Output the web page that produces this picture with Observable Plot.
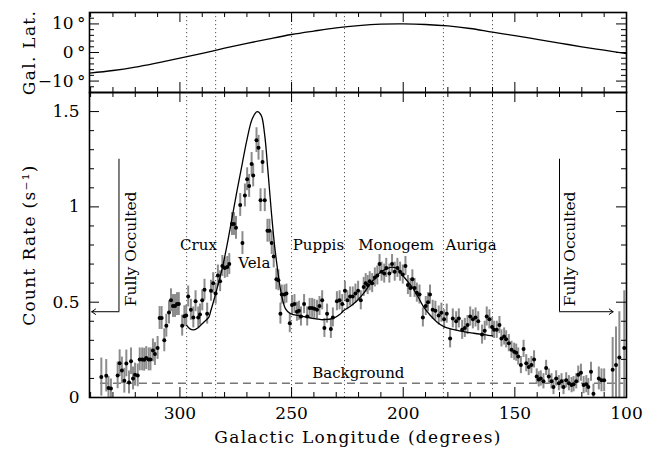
<!DOCTYPE html>
<html><head><meta charset="utf-8">
<script src="https://cdn.jsdelivr.net/npm/d3@7"></script>
<script src="https://cdn.jsdelivr.net/npm/@observablehq/plot@0.6"></script>
<style>
html,body{margin:0;padding:0;background:#fff;}
#chart{position:relative;width:661px;height:449px;}
#chart svg{position:absolute;left:0;top:0;}
</style></head><body><div id="chart"></div>
<script>
// ---------- data ----------
// count-rate points: [galactic longitude (deg), rate (s^-1), 1-sigma error]
const counts = [
[335.2,0.107,0.10],[333.0,0.114,0.085],[332.0,0.05,0.06],[330.9,0.047,0.05],[327.9,0.116,0.07],[327.0,0.18,0.07],
[326.0,0.142,0.07],[324.9,0.088,0.065],[324.0,0.179,0.07],[322.8,0.079,0.06],[321.9,0.19,0.07],[321.0,0.10,0.06],
[320.1,0.12,0.06],[318.9,0.116,0.06],[318.0,0.20,0.06],[316.9,0.20,0.06],[316.0,0.198,0.06],[315.1,0.207,0.06],
[314.0,0.20,0.06],[313.2,0.20,0.06],[312.1,0.247,0.06],[311.2,0.228,0.06],[310.0,0.26,0.06],[309.1,0.417,0.06],
[308.2,0.417,0.06],[307.0,0.30,0.06],[306.1,0.377,0.06],[304.9,0.446,0.06],[304.0,0.51,0.06],[303.1,0.48,0.06],
[302.2,0.48,0.06],[301.3,0.49,0.06],[300.5,0.49,0.06],[299.0,0.377,0.055],[298.0,0.426,0.055],[297.2,0.43,0.055],
[296.3,0.53,0.055],[295.1,0.46,0.055],[294.0,0.42,0.055],[293.0,0.505,0.055],[291.8,0.42,0.055],[291.0,0.435,0.055],
[290.0,0.51,0.055],[289.0,0.565,0.055],[287.8,0.44,0.055],[286.1,0.56,0.055],[285.1,0.60,0.055],[284.0,0.545,0.055],
[283.0,0.64,0.055],[282.0,0.61,0.055],[281.0,0.69,0.055],[279.9,0.68,0.055],[278.8,0.685,0.055],[277.9,0.70,0.055],
[276.7,0.91,0.06],[275.8,0.91,0.06],[274.9,0.89,0.06],[273.0,1.01,0.06],[272.0,0.81,0.06],[270.9,1.06,0.06],
[269.9,1.145,0.06],[269.0,1.11,0.06],[267.9,1.225,0.06],[267.2,1.165,0.06],[265.7,1.35,0.065],[264.8,1.31,0.065],
[263.9,1.035,0.06],[263.0,1.235,0.06],[262.0,1.035,0.06],[260.8,0.875,0.06],[259.9,0.875,0.06],[258.9,0.81,0.06],
[258.0,0.74,0.06],[256.8,0.62,0.055],[255.9,0.615,0.055],[255.0,0.44,0.055],[254.4,0.54,0.05],[253.2,0.54,0.05],
[252.3,0.545,0.05],[250.8,0.39,0.05],[249.8,0.485,0.05],[248.7,0.49,0.05],[247.6,0.45,0.05],[246.7,0.455,0.05],
[245.8,0.425,0.05],[244.4,0.49,0.05],[243.0,0.425,0.05],[241.9,0.47,0.05],[240.8,0.47,0.05],[239.8,0.465,0.05],
[238.6,0.46,0.05],[237.5,0.48,0.05],[236.3,0.51,0.05],[235.3,0.365,0.05],[234.1,0.44,0.05],[232.4,0.36,0.05],
[231.5,0.42,0.05],[229.7,0.505,0.05],[228.5,0.51,0.05],[227.3,0.49,0.05],[226.1,0.56,0.05],[225.0,0.51,0.05],
[223.8,0.53,0.05],[222.6,0.53,0.05],[221.4,0.545,0.05],[220.2,0.56,0.05],[219.0,0.51,0.05],[217.7,0.58,0.05],
[216.8,0.60,0.05],[215.9,0.59,0.05],[215.0,0.61,0.05],[213.9,0.60,0.05],[212.7,0.63,0.05],[211.6,0.64,0.05],
[210.6,0.70,0.05],[209.7,0.66,0.05],[208.5,0.65,0.05],[207.6,0.68,0.05],[206.2,0.65,0.05],[205.0,0.70,0.05],
[203.8,0.66,0.05],[202.6,0.68,0.05],[201.4,0.66,0.05],[200.2,0.645,0.05],[199.0,0.69,0.05],[197.9,0.59,0.05],
[196.8,0.575,0.05],[195.9,0.62,0.05],[194.9,0.575,0.05],[193.9,0.55,0.05],[192.7,0.54,0.05],[191.2,0.42,0.05],
[189.9,0.48,0.05],[188.9,0.50,0.05],[188.0,0.54,0.05],[186.8,0.46,0.05],[185.6,0.455,0.05],[184.1,0.43,0.05],
[182.9,0.445,0.05],[181.7,0.41,0.05],[180.5,0.44,0.05],[179.0,0.31,0.05],[177.8,0.415,0.05],[176.3,0.40,0.05],
[175.1,0.415,0.05],[173.6,0.355,0.05],[172.4,0.365,0.05],[171.2,0.38,0.05],[170.0,0.425,0.05],[168.8,0.41,0.05],
[167.6,0.42,0.05],[166.4,0.40,0.05],[164.7,0.33,0.05],[163.5,0.35,0.05],[162.6,0.425,0.05],[161.4,0.41,0.05],
[160.2,0.37,0.05],[159.3,0.355,0.045],[158.1,0.355,0.045],[156.9,0.38,0.045],[156.0,0.31,0.045],[154.8,0.32,0.045],
[153.9,0.305,0.045],[152.7,0.285,0.045],[151.5,0.25,0.045],[150.3,0.24,0.045],[149.4,0.235,0.045],[148.5,0.215,0.045],
[147.3,0.17,0.045],[146.1,0.255,0.045],[144.9,0.18,0.045],[143.8,0.16,0.045],[142.6,0.17,0.045],[141.4,0.20,0.045],
[140.2,0.11,0.04],[139.3,0.095,0.04],[138.4,0.10,0.04],[137.2,0.085,0.04],[136.0,0.155,0.04],[134.8,0.11,0.04],
[133.6,0.085,0.04],[132.7,0.055,0.04],[131.5,0.10,0.04],[130.3,0.075,0.04],[129.1,0.085,0.04],[128.2,0.055,0.04],
[127.0,0.09,0.04],[125.8,0.075,0.04],[124.6,0.065,0.04],[123.7,0.07,0.04],[122.5,0.085,0.04],[121.6,0.12,0.045],
[120.4,0.13,0.045],[119.2,0.065,0.045],[118.0,0.07,0.045],[117.1,0.055,0.045],[115.9,0.135,0.05],[114.8,0.02,0.05],
[112.4,0.10,0.06],[111.2,0.09,0.06],[110.0,0.09,0.06],[106.2,0.145,0.17],[104.7,0.17,0.2],[103.2,0.21,0.24],[101.0,0.26,0.3]
];
// model curve: [longitude, rate]
const model = [
[297,0.378],[295.5,0.36],[293.8,0.355],[292,0.365],[290.8,0.378],[289.3,0.395],[287.1,0.42],[286.3,0.45],
[284.8,0.51],[283.3,0.575],[281.1,0.675],[278.8,0.806],[276.6,0.946],[274.4,1.086],[272.1,1.226],[269.9,1.357],
[267.6,1.462],[265.4,1.50],[263.6,1.48],[262.1,1.383],[260.6,1.19],[259.1,0.98],[257.7,0.806],[256.2,0.666],
[254.6,0.544],[252.7,0.465],[250.5,0.44],[246,0.428],[243,0.421],[239,0.413],[235.6,0.408],[231.1,0.416],
[228.5,0.435],[226.6,0.456],[223.5,0.48],[220.6,0.509],[217.5,0.55],[214.7,0.597],[212.3,0.63],[210.2,0.657],
[207.5,0.675],[205,0.684],[202.5,0.675],[200.5,0.645],[199,0.623],[196,0.579],[193.7,0.535],[190.8,0.474],
[187.8,0.43],[184.8,0.395],[181.8,0.372],[178.8,0.36],[174.3,0.348],[168.4,0.337],[163,0.328],[160,0.323]
];
// scan path galactic latitude: [longitude, latitude]
const latitude = [
[340.5,-7.2],[330,-6.3],[320,-5.1],[310,-3.6],[300,-2.0],[290,-0.3],[280,1.5],[270,3.2],[260,4.8],[250,6.3],
[240,7.5],[230,8.6],[220,9.4],[210,9.9],[200,10.0],[190,9.8],[180,9.3],[170,8.4],[160,7.1],[150,5.9],
[140,4.6],[130,3.3],[120,2.0],[110,0.8],[100,-0.4]
];
const boundaries = [297, 284, 250, 226.3, 182, 160];
const regionNames = ["Crux", "Vela", "Puppis", "Monogem", "Auriga"];
const regionLon = [291.7, 266.7, 238.0, 203.2, 169.6];
const regionRate = [0.797, 0.703, 0.797, 0.797, 0.797];
const backgroundLevel = 0.075;
const backgroundSpan = [335.6, 101.3];
const backgroundLabel = {name: "Background", lon: 220.1, rate: 0.126};
const occultCorner = [327.3, 130];
const occultTip = [339.5, 106];
const occultTop = 1.25, occultBottom = 0.45;
const occultTextLon = [321.7, 125.1], occultTextRate = 0.78;
const xMajor = [300, 250, 200, 150, 100];
const xMinor = [340,330,320,310,290,280,270,260,240,230,220,210,190,180,170,160,140,130,120,110];
const rateMajor = [0, 0.5, 1, 1.5];
const rateMinor = [0.1,0.2,0.3,0.4,0.6,0.7,0.8,0.9,1.1,1.2,1.3,1.4];
const latMajor = [-10, 0, 10];
const latMinor = [-12,-8,-6,-4,-2,2,4,6,8,12];

(function () {
// ---------- layout ----------
const W = 661, H = 449, ML = 89, MR = 35;
const FW = W - ML - MR;
const font = "DejaVu Serif";
const xDomain = [340.5, 100];

function frameTicks(xMaj, xMin, yMaj, yMin, FH) {
  const t = [];
  for (const [arr, len] of [[xMaj, 10], [xMin, 5]]) {
    t.push(Plot.tickX(arr, {x: d => d, insetTop: FH - len, stroke: "black"}));
    t.push(Plot.tickX(arr, {x: d => d, insetBottom: FH - len, stroke: "black"}));
  }
  for (const [arr, len] of [[yMaj, 10], [yMin, 5]]) {
    t.push(Plot.tickY(arr, {y: d => d, insetRight: FW - len, stroke: "black"}));
    t.push(Plot.tickY(arr, {y: d => d, insetLeft: FW - len, stroke: "black"}));
  }
  return t;
}

// ---------- bottom panel ----------
const FHb = 305;
const bottomPanel = Plot.plot({
  width: W, height: H, marginLeft: ML, marginRight: MR, marginTop: 92, marginBottom: 52,
  style: {background: "transparent", fontFamily: font, overflow: "visible"},
  x: {domain: xDomain},
  y: {domain: [0, 1.6]},
  marks: [
    Plot.ruleX(boundaries, {x: d => d, stroke: "#555", strokeDasharray: "1.2,2.8"}),
    Plot.ruleY([backgroundLevel], {y: d => d, x1: backgroundSpan[0], x2: backgroundSpan[1], stroke: "#777", strokeWidth: 1.5, strokeDasharray: "8,5"}),
    Plot.ruleX(counts, {x: d => d[0], y1: d => d[1] - d[2], y2: d => d[1] + d[2], stroke: "#8c8c8c", strokeWidth: 2, clip: true}),
    Plot.dot(counts, {x: d => d[0], y: d => d[1], r: 2, fill: "black"}),
    Plot.line(model, {x: d => d[0], y: d => d[1], curve: "catmull-rom", stroke: "black", strokeWidth: 1.3}),
    Plot.text(regionNames, {x: (d, i) => regionLon[i], y: (d, i) => regionRate[i], text: d => d, fontSize: 15, fill: "black"}),
    Plot.text([backgroundLabel], {x: "lon", y: "rate", text: "name", fontSize: 15, fill: "black"}),
    Plot.ruleX(occultCorner, {x: d => d, y1: occultBottom, y2: occultTop, stroke: "black"}),
    Plot.arrow(occultCorner, {x1: d => d, x2: (d, i) => occultTip[i], y1: occultBottom, y2: occultBottom, stroke: "black", strokeWidth: 1, headLength: 7, headAngle: 70}),
    Plot.text(occultTextLon, {x: d => d, y: occultTextRate, text: () => "Fully Occulted", rotate: -90, fontSize: 15.5, fill: "black"}),
    ...frameTicks(xMajor, xMinor, rateMajor, rateMinor, FHb),
    Plot.frame({stroke: "black", strokeWidth: 1.6}),
    Plot.axisX(xMajor, {tickSize: 0, tickPadding: 9, fontSize: 17, tickFormat: d => String(d), label: null}),
    Plot.axisY(rateMajor, {tickSize: 0, tickPadding: 10, fontSize: 17, tickFormat: d => String(d), label: null}),
    Plot.text(["Count Rate (s\u207B\u00B9)"], {frameAnchor: "left", dx: -60, rotate: -90, text: d => d, textAnchor: "middle", lineAnchor: "middle", fontSize: 17, fill: "black"}),
    Plot.text(["Galactic Longitude (degrees)"], {frameAnchor: "bottom", dy: 40, text: d => d, textAnchor: "middle", lineAnchor: "middle", fontSize: 17, fill: "black"})
  ]
});

// ---------- top panel ----------
const FHt = 80;
const topPanel = Plot.plot({
  width: W, height: H, marginLeft: ML, marginRight: MR, marginTop: 12, marginBottom: H - 92,
  style: {background: "transparent", fontFamily: font, overflow: "visible"},
  x: {domain: xDomain, axis: null},
  y: {domain: [-14, 14]},
  marks: [
    Plot.ruleX(boundaries, {x: d => d, stroke: "#555", strokeDasharray: "1.2,2.8"}),
    Plot.line(latitude, {x: d => d[0], y: d => d[1], curve: "catmull-rom", stroke: "black", strokeWidth: 1.3}),
    ...frameTicks(xMajor, xMinor, latMajor, latMinor, FHt),
    Plot.frame({stroke: "black", strokeWidth: 1.6}),
    Plot.axisY(latMajor, {tickSize: 0, tickPadding: 4, fontSize: 17, tickFormat: d => (d < 0 ? "\u2212" : "") + Math.abs(d) + "\u2009\u00B0", label: null}),
    Plot.text(["Gal. Lat."], {frameAnchor: "left", dx: -60, rotate: -90, text: d => d, textAnchor: "middle", lineAnchor: "middle", fontSize: 17, fill: "black"})
  ]
});

const chart = document.getElementById("chart");
chart.appendChild(bottomPanel);
chart.appendChild(topPanel);
for (const t of chart.querySelectorAll("text")) {
  const s = t.textContent;
  if (s.startsWith("Count Rate") || s.startsWith("Galactic") || s.startsWith("Gal. Lat")) t.style.letterSpacing = "1.3px";
}
})();
</script></body></html>
